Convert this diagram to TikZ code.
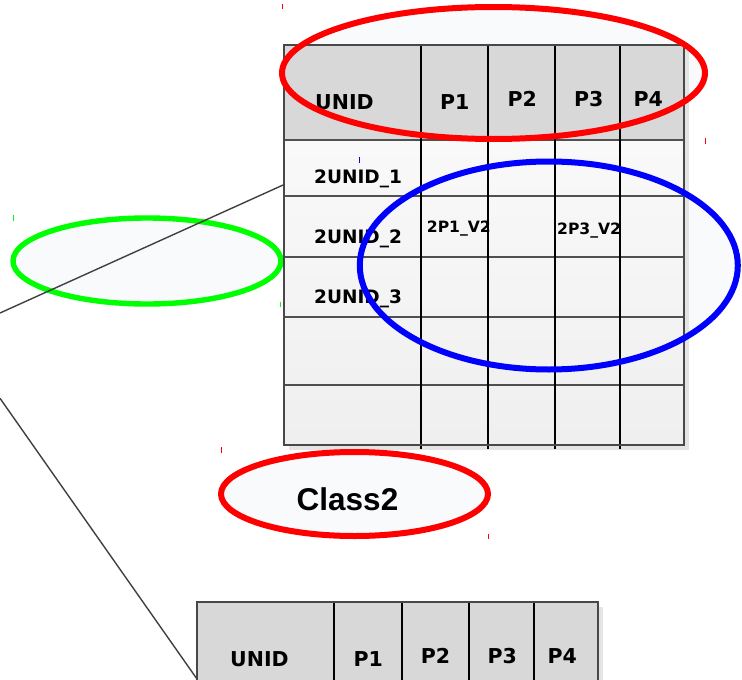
\documentclass[tikz,border=0pt]{standalone}
\usepackage{fontspec}
\setmainfont{DejaVu Sans}
\newfontfamily\arialbold{Liberation Sans}
\usetikzlibrary{shapes.geometric}
\definecolor{hdrgray}{HTML}{D8D8D8}
\definecolor{bodytop}{HTML}{F9F9F9}
\definecolor{bodybot}{HTML}{EFEFEF}
\definecolor{shadowgray}{HTML}{E4E4E4}
\definecolor{bordergray}{HTML}{484848}
\definecolor{rowgray}{HTML}{505050}
\definecolor{ellfill}{HTML}{F8FAFC}
\definecolor{myred}{HTML}{FF0000}
\definecolor{myblue}{HTML}{0000FF}
\definecolor{mygreen}{HTML}{00FF00}
\definecolor{linegray}{HTML}{404040}
\tikzset{
  hdrtext/.style={anchor=base west,inner sep=0pt,font=\bfseries\fontsize{20.5}{24}\selectfont},
  rowtext/.style={anchor=base west,inner sep=0pt,font=\bfseries\fontsize{18.5}{22}\selectfont},
  celltext/.style={anchor=base west,inner sep=0pt,font=\bfseries\fontsize{15.6}{19}\selectfont},
  ringfill/.style={ellipse,inner sep=0pt,fill=ellfill,draw=none},
  ringline/.style={ellipse,inner sep=0pt,line width=6pt},
  tableborder/.style={draw=bordergray,line width=2pt},
  rowline/.style={draw=rowgray,line width=1.6pt},
  colline/.style={draw=black,line width=1.9pt},
  connector/.style={draw=linegray,line width=1.4pt},
  tick/.style={line width=1pt}
}
\begin{document}
\begin{tikzpicture}[x=1pt,y=-1pt]
\useasboundingbox (0,0) rectangle (742,680);
\clip (0,0) rectangle (742,680);

% ellipse fills (behind everything)
\node[ringfill,minimum width=423pt,minimum height=132pt] (redtop) at (493.5,73) {};
\node[ringfill,minimum width=378pt,minimum height=208pt] (blue) at (548.8,265.5) {};
\node[ringfill,minimum width=267pt,minimum height=84pt] (cls) at (354.5,494) {};
\node[ringfill,minimum width=268pt,minimum height=86pt] (green) at (147,261) {};
\node[ringline,draw=mygreen,line width=5.4pt,minimum width=268pt,minimum height=86pt] (greenring) at (green) {};

% ---- top table ----
\fill[shadowgray] (289,50) rectangle (689,450);
\fill[hdrgray] (284,45) rectangle (684,140);
\shade[top color=bodytop,bottom color=bodybot] (284,140) rectangle (684,445);
\foreach \y in {196,257,317,385} \draw[rowline] (284,\y) -- (684,\y);
\draw[rowline] (284,140) -- (684,140);
\foreach \x in {420.7,488.3,555,620.3} \draw[colline] (\x,45) -- (\x,449);
\draw[tableborder] (284,45) rectangle (684,445);
\coordinate (topleft) at (284,184.6);

\node[hdrtext] (tU) at (315,109) {UNID};
\node[hdrtext] (tP1) at (440,109.3) {P1};
\node[hdrtext] (tP2) at (507.3,106.7) {P2};
\node[hdrtext] (tP3) at (574,106.7) {P3};
\node[hdrtext] (tP4) at (633.3,106.7) {P4};
\node[rowtext] (r1) at (314,183) {2UNID\_1};
\node[rowtext] (r2) at (314,243.3) {2UNID\_2};
\node[rowtext] (r3) at (314,303.3) {2UNID\_3};
\node[celltext] (c1) at (426.7,232.3) {2P1\_V2};
\node[celltext] (c3) at (557,234) {2P3\_V2};

% ---- bottom table ----
\fill[shadowgray] (202,607) rectangle (603,690);
\fill[hdrgray] (197,602) rectangle (598,690);
\foreach \x in {334.3,401.7,469,534} \draw[colline] (\x,602) -- (\x,690);
\draw[tableborder] (197,690) -- (197,602) -- (598,602) -- (598,690);
\coordinate (botleft) at (197,679);

\node[hdrtext] (bU) at (230,666) {UNID};
\node[hdrtext] (bP1) at (353.3,666) {P1};
\node[hdrtext] (bP2) at (420.7,663.3) {P2};
\node[hdrtext] (bP3) at (487.3,663.3) {P3};
\node[hdrtext] (bP4) at (547.3,663.3) {P4};

% ---- connectors ----
\coordinate (free1) at (0,313);
\coordinate (free2) at (0,398.3);
\draw[connector] (topleft) -- (free1);
\draw[connector] (botleft) -- (free2);

% ---- ellipse outlines on top ----
\node[ringline,draw=myred,minimum width=423pt,minimum height=132pt] (redtopring) at (redtop) {};
\node[ringline,draw=myblue,minimum width=378pt,minimum height=208pt] (bluering) at (blue) {};
\node[ringline,draw=myred,minimum width=267pt,minimum height=84pt] (clsring) at (cls) {};
\node[anchor=base,inner sep=0pt,font=\arialbold\bfseries\fontsize{31.5}{36}\selectfont] (clslabel) at (347.5,510) {Class2};

% ---- tiny corner ticks ----
\draw[tick,myred] (282.3,4) -- (282.3,9);
\draw[tick,myred] (705,138) -- (705,144);
\draw[tick,myblue] (359.3,157) -- (359.3,163);
\draw[tick,mygreen] (13.3,215) -- (13.3,220.7);
\draw[tick,mygreen] (280.5,301.7) -- (280.5,307);
\draw[tick,myred] (221.7,447) -- (221.7,452.7);
\draw[tick,myred] (488.3,534) -- (488.3,539);
\end{tikzpicture}
\end{document}
